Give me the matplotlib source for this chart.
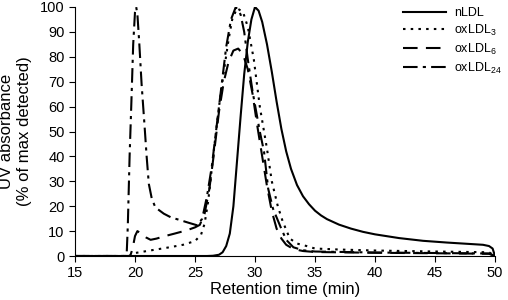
import matplotlib
matplotlib.use("Agg")
import matplotlib.pyplot as plt

# retention time (min) / UV absorbance (% of max detected)
nldl_x = [15, 26, 26.5, 27, 27.3, 27.6, 27.9, 28.2, 28.5, 28.8, 29.1, 29.4, 29.7, 30,
          30.3, 30.6, 31, 31.4, 31.8, 32.2, 32.6, 33, 33.5, 34, 34.5, 35, 35.5, 36, 37,
          38, 39, 40, 42, 44, 46, 48, 49, 49.5, 49.8, 50]
nldl_y = [0, 0, 0.1, 0.5, 1.5, 4, 9, 20, 38, 56, 73, 86, 95, 100,
          98.5, 94, 85, 74, 62, 51, 42, 35, 28.5, 24, 20.8, 18.2, 16.3, 14.8, 12.6,
          11, 9.7, 8.7, 7.2, 6.1, 5.4, 4.8, 4.5, 4.0, 3.0, 0]

ox3_x = [15, 19.5, 20, 21, 22, 23, 24, 25, 25.5, 25.8, 26.1, 26.4, 26.7, 27, 27.4, 27.8,
         28.1, 28.5, 29, 29.4, 29.9, 30.4, 31, 31.4, 31.9, 32.3, 32.9, 33.5, 34.3, 35,
         37, 40, 45, 49.5, 50]
ox3_y = [0, 0, 1.2, 2.0, 2.8, 3.6, 4.5, 6, 8.5, 13, 22, 35, 48, 60, 74, 87,
         95, 99.5, 98, 92, 79, 60, 43, 30, 20, 14, 7, 5, 4, 3,
         2.6, 2.2, 1.8, 1.5, 0]

ox6_x = [15, 19.6, 19.8, 20.0, 20.2, 20.5, 20.9, 21.3, 21.8, 22.5, 23.3, 24.3, 25.0, 25.4,
         25.8, 26.2, 26.6, 27.0, 27.4, 27.8, 28.2, 28.6, 29.0, 29.4, 29.8, 30.2, 30.6,
         31.0, 31.4, 31.8, 32.2, 32.6, 33.2, 34, 35, 40, 45, 49.5, 50]
ox6_y = [0, 0, 3, 8, 10, 9, 7.5, 6.5, 7, 8, 9, 10.3, 11.5, 12.5,
         17, 27, 42, 58, 70, 78, 82.5, 83.3, 81, 75, 65, 52, 40,
         28, 18, 11, 7, 4.5, 2.8, 2, 1.6, 1.3, 1.1, 0.9, 0]

ox24_x = [15, 19.3, 19.4, 19.55, 19.7, 19.85, 20.0, 20.1, 20.2, 20.35, 20.55, 20.8, 20.97,
          21.15, 21.4, 21.7, 22.4, 23, 23.7, 24.5, 25.2, 25.6, 26, 26.4, 26.8, 27.2, 27.6,
          28.0, 28.4, 28.8, 29.1, 29.4, 29.8, 30.1, 30.4, 30.75, 31.1, 31.5, 32.1, 32.6,
          33.2, 34, 35, 40, 45, 49.5, 50]
ox24_y = [0, 0, 12, 40, 62, 85, 98, 100, 97, 86, 69, 52, 40,
          29, 23, 19.5, 17, 15.5, 14.5, 13.3, 12.3, 15, 24, 36, 52, 68, 84,
          95, 100, 97, 90, 79, 66, 58, 50, 42, 27, 19, 12, 6.5,
          3.5, 2.3, 1.8, 1.4, 1.2, 1.0, 0]

labels = ["nLDL", r"$\mathregular{oxLDL_3}$", r"$\mathregular{oxLDL_6}$",
          r"$\mathregular{oxLDL_{24}}$"]

plt.rcParams["font.family"] = ["Liberation Sans", "DejaVu Sans"]

fig = plt.figure(figsize=(5.08, 3.0), dpi=100)
ax = fig.add_axes([75 / 508, 1 - 256 / 300, 420 / 508, 249 / 300])

lw = 1.5
ax.plot(nldl_x, nldl_y, color="black", lw=lw, linestyle="-", label=labels[0])
ax.plot(ox3_x, ox3_y, color="black", lw=lw, linestyle=(0, (1.2, 2.5)), label=labels[1])
ax.plot(ox6_x, ox6_y, color="black", lw=lw, linestyle=(0, (7, 4)), label=labels[2])
ax.plot(ox24_x, ox24_y, color="black", lw=lw, linestyle=(0, (7, 2.5, 1.5, 2.5)),
        label=labels[3])

ax.set_xlim(15, 50)
ax.set_ylim(0, 100)
ax.set_xticks(range(15, 51, 5))
ax.set_yticks(range(0, 101, 10))
ax.spines["top"].set_visible(False)
ax.spines["right"].set_visible(False)
ax.tick_params(direction="out", length=4, labelsize=10.5)

ax.set_xlabel("Retention time (min)", fontsize=12, labelpad=1)
ax.set_ylabel("UV absorbance\n(% of max detected)", fontsize=12, labelpad=6)

ax.legend(loc="upper left", bbox_to_anchor=(403 / 508, 1 - 7 / 300),
          bbox_transform=fig.transFigure, frameon=False, fontsize=9,
          handlelength=3.4, labelspacing=0.3, handletextpad=0.7, borderaxespad=0,
          borderpad=0)

fig.savefig("out.png", dpi=100)
